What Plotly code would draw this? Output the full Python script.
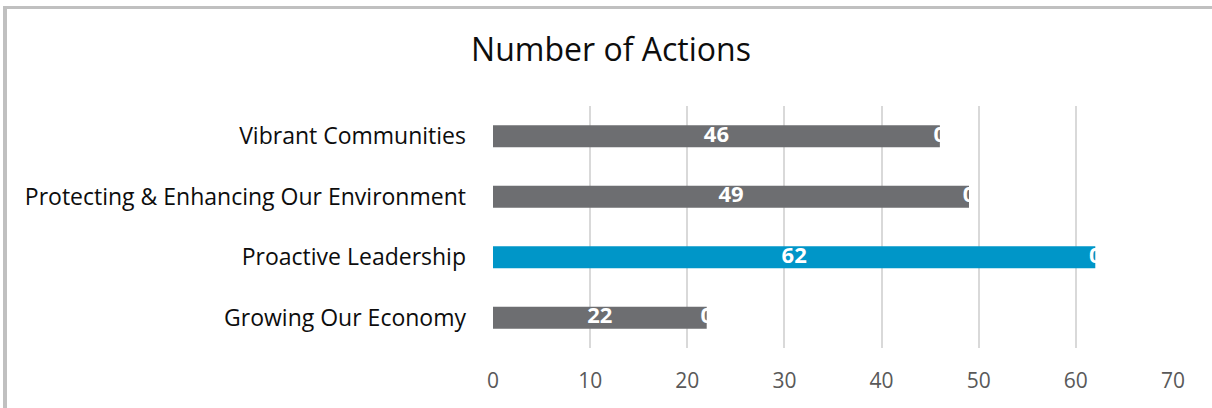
import plotly.graph_objects as go

categories = ["Vibrant Communities", "Protecting & Enhancing Our Environment",
              "Proactive Leadership", "Growing Our Economy"]
actions = [46, 49, 62, 22]
extra = [0, 0, 0, 0]
bar_colors = ["#6d6e71", "#6d6e71", "#0096c8", "#6d6e71"]
x_ticks = [0, 10, 20, 30, 40, 50, 60, 70]
title_text = "Number of Actions"

W, H = 1212, 408
L, R, T, B = 493, 1173, 106, 348
FONT = "Open Sans"

def px(x):
    return (x - L) / (R - L)

def py(y):
    return (B - y) / (B - T)

fig = go.Figure()
fig.add_trace(go.Bar(
    y=categories, x=actions, orientation="h",
    marker=dict(color=bar_colors, line=dict(width=0)),
    width=0.36,
    showlegend=False, hoverinfo="x+y",
))
# value labels centred inside each bar
fig.add_trace(go.Scatter(
    y=categories, x=[v / 2 for v in actions], mode="text",
    text=[str(v) for v in actions], textposition="middle center",
    textfont=dict(family=FONT, size=22, color="white", weight="bold"),
    showlegend=False, hoverinfo="skip",
))
# labels of the zero-valued stacked series, at the end of each bar
fig.add_trace(go.Scatter(
    y=categories, x=[a + e for a, e in zip(actions, extra)], mode="text",
    text=[str(v) for v in extra], textposition="middle center",
    textfont=dict(family=FONT, size=22, color="white", weight="bold"),
    showlegend=False, hoverinfo="skip",
))

fig.update_layout(
    width=W, height=H,
    margin=dict(l=L, r=W - R, t=T, b=H - B),
    paper_bgcolor="white", plot_bgcolor="white",
    font=dict(family=FONT),
    title=dict(text=title_text, xref="container", yref="container",
               x=611 / W, y=1 - 50 / H, xanchor="center", yanchor="middle",
               font=dict(family=FONT, size=32, color="#0d0d0d")),
    xaxis=dict(range=[0, 70], tickvals=x_ticks, showgrid=True,
               gridcolor="#d9d9d9", gridwidth=2, zeroline=False, showline=False,
               tickfont=dict(family=FONT, size=21, color="#595959"),
               ticklabelstandoff=18, fixedrange=True),
    yaxis=dict(autorange="reversed", showgrid=False, zeroline=False, showline=False,
               tickfont=dict(family=FONT, size=23, color="#0d0d0d"),
               ticklabelstandoff=26, fixedrange=True),
    shapes=[
        dict(type="rect", xref="paper", yref="paper",
             x0=px(3), x1=px(7), y0=py(6), y1=py(H + 2),
             fillcolor="#c0c0c0", line=dict(width=0), layer="above"),
        dict(type="rect", xref="paper", yref="paper",
             x0=px(3), x1=px(W + 2), y0=py(6), y1=py(9),
             fillcolor="#c0c0c0", line=dict(width=0), layer="above"),
    ],
)

fig.write_html("out.html", config={"displayModeBar": False},
               post_script="document.body.style.margin='0';")
